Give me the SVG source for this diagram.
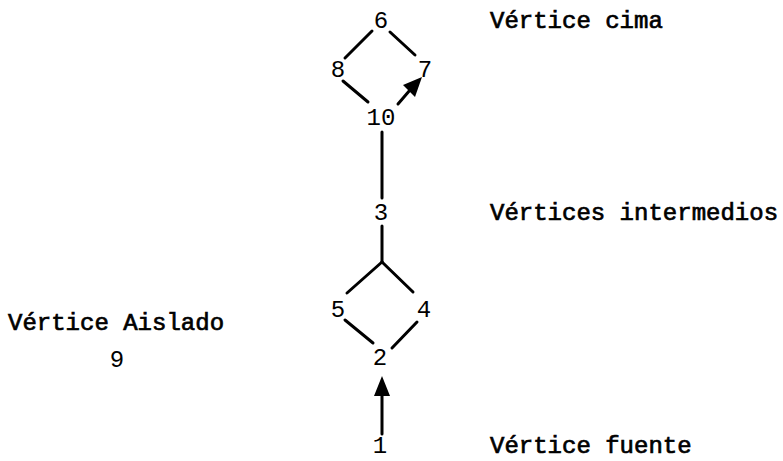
<svg xmlns="http://www.w3.org/2000/svg" width="783" height="461" viewBox="0 0 783 461">
  <style>
    text { font-family: "Liberation Mono", "Courier New", monospace; font-size: 24px; fill: #000; }
    .node text { text-anchor: middle; }
    .caption { stroke: #000; stroke-width: 0.7; }
    .edge { stroke: #000; stroke-width: 3; stroke-linecap: round; fill: none; }
  </style>
  <rect width="783" height="461" fill="#fff"/>

  <!-- connectors -->
  <g id="connectors">
    <line class="edge" x1="372" y1="31" x2="345" y2="58"/>
    <line class="edge" x1="390" y1="32" x2="415" y2="55"/>
    <line class="edge" x1="343" y1="81" x2="368" y2="102"/>
    <line class="edge" x1="398" y1="104" x2="410" y2="90"/>
    <polygon points="422,77 403,85 415,97" fill="#000"/>
    <line class="edge" x1="382" y1="132" x2="382" y2="198"/>
    <line class="edge" x1="382" y1="226" x2="382" y2="262"/>
    <line class="edge" x1="382" y1="262" x2="347" y2="293"/>
    <line class="edge" x1="382" y1="262" x2="413" y2="292"/>
    <line class="edge" x1="345" y1="320" x2="373" y2="343"/>
    <line class="edge" x1="417" y1="322" x2="392" y2="348"/>
    <line class="edge" x1="382" y1="434" x2="382" y2="394"/>
    <polygon points="382,376 374,396 390,396" fill="#000"/>
  </g>

  <!-- vertices -->
  <g id="v6" class="node"><text x="381" y="28">6</text></g>
  <g id="v8" class="node"><text x="338" y="77">8</text></g>
  <g id="v7" class="node"><text x="425" y="77">7</text></g>
  <g id="v10" class="node"><text x="381" y="125">10</text></g>
  <g id="v3" class="node"><text x="381" y="220">3</text></g>
  <g id="v5" class="node"><text x="338" y="317">5</text></g>
  <g id="v4" class="node"><text x="424" y="317">4</text></g>
  <g id="v2" class="node"><text x="380" y="365">2</text></g>
  <g id="v1" class="node"><text x="380" y="453">1</text></g>
  <g id="v9" class="node"><text x="117" y="367">9</text></g>

  <!-- captions -->
  <g id="captions">
    <text class="caption" x="490" y="28">Vértice cima</text>
    <text class="caption" x="490" y="220">Vértices intermedios</text>
    <text class="caption" x="490" y="453">Vértice fuente</text>
    <text class="caption" x="8" y="330">Vértice Aislado</text>
  </g>
</svg>
